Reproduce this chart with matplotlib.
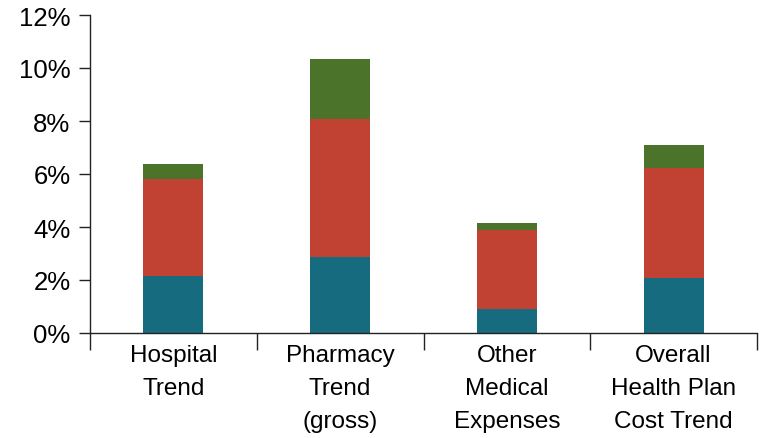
import numpy as np
import matplotlib.pyplot as plt
from matplotlib.ticker import FuncFormatter

# Chart data (percent)
categories = ["Hospital\nTrend", "Pharmacy\nTrend\n(gross)", "Other\nMedical\nExpenses",
              "Overall\nHealth Plan\nCost Trend"]
base = [2.15, 2.87, 0.91, 2.08]
middle = [3.66, 5.21, 2.98, 4.15]
top = [0.57, 2.26, 0.26, 0.86]

colors = ["#176B7F", "#C14133", "#4B742A"]

plt.rcParams['font.family'] = ['Liberation Sans', 'DejaVu Sans']

fig = plt.figure(figsize=(7.65, 4.39), dpi=100)
ax = fig.add_axes([90 / 765, 105 / 439, 667 / 765, 318 / 439])

x = np.arange(len(categories))
w = 0.36
ax.bar(x, base, w, color=colors[0])
ax.bar(x, middle, w, bottom=base, color=colors[1])
ax.bar(x, top, w, bottom=np.array(base) + np.array(middle), color=colors[2])

ax.set_xlim(-0.5, len(categories) - 0.5)
ax.set_ylim(0, 12)
ax.set_yticks(np.arange(0, 13, 2))
ax.yaxis.set_major_formatter(FuncFormatter(lambda v, p: f"{v:.0f}%"))

ax.set_xticks(x)
ax.set_xticklabels(categories, fontsize=17.5, linespacing=1.65, va='top')
ax.set_xticks(np.arange(-0.5, len(categories)), minor=True)
ax.tick_params(axis='x', which='major', length=0, pad=8)
ax.tick_params(axis='x', which='minor', length=12.5, width=1, color='#222222', direction='out')
ax.tick_params(axis='y', length=8, width=1, color='#222222', pad=6, labelsize=18.5)

for s in ['top', 'right']:
    ax.spines[s].set_visible(False)
for s in ['left', 'bottom']:
    ax.spines[s].set_color('#222222')
    ax.spines[s].set_linewidth(1)

fig.savefig("out.png", dpi=100)
